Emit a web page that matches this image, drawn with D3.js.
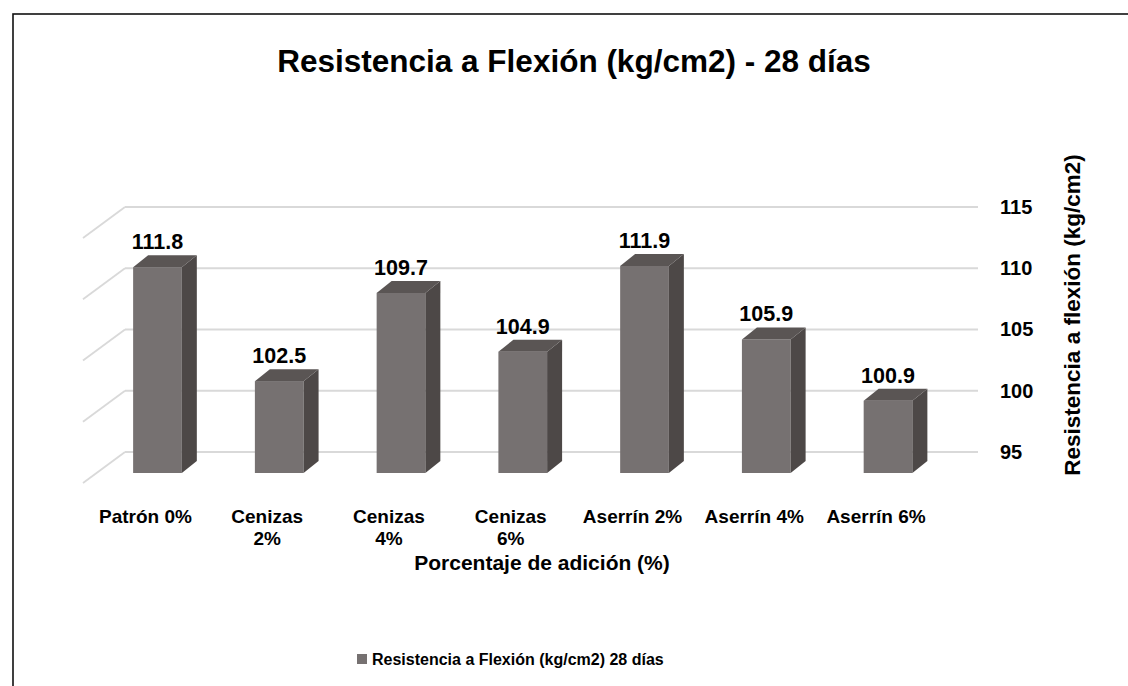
<!DOCTYPE html>
<meta charset="utf-8">
<style>
  body { margin: 0; background: #fff; }
  svg { font-family: "Liberation Sans", Arial, sans-serif; font-weight: 700; }
  .grid line { stroke: #d9d9d9; stroke-width: 1.8; }
</style>
<body>
<script src="https://cdnjs.cloudflare.com/ajax/libs/d3/7.8.5/d3.min.js"></script>
<script>
// data
var categories = ["Patrón 0%", "Cenizas 2%", "Cenizas 4%", "Cenizas 6%", "Aserrín 2%", "Aserrín 4%", "Aserrín 6%"];
var values = [111.8, 102.5, 109.7, 104.9, 111.9, 105.9, 100.9];
var yTicks = [95, 100, 105, 110, 115];
// how excel wrapped the category labels
var tickLines = [["Patrón 0%"], ["Cenizas", "2%"], ["Cenizas", "4%"], ["Cenizas", "6%"], ["Aserrín 2%"], ["Aserrín 4%"], ["Aserrín 6%"]];
var seriesName = "Resistencia a Flexión (kg/cm2) 28 días";

var width = 1128, height = 686;
var depthX = 15, depthY = -12;     // bar depth
var wallDx = -42, wallDy = 31;     // left wall lines

var svg = d3.select("body").append("svg")
  .attr("width", width)
  .attr("height", height);

// chart border
svg.append("rect")
  .attr("x", 13).attr("y", 14)
  .attr("width", 1140).attr("height", 700)
  .attr("fill", "#fff")
  .attr("stroke", "#111")
  .attr("stroke-width", 1.6);

var x = d3.scaleBand()
  .domain(categories)
  .range([96.6, 948.9])
  .paddingInner(0.6)
  .paddingOuter(0.3);

// front plane and back wall
var yFront = d3.scaleLinear().domain([95, 115]).range([473, 228]);
var yBack = d3.scaleLinear().domain([95, 115]).range([452, 207]);

// gridlines on back wall + left wall
var grid = svg.append("g").attr("class", "grid");
grid.selectAll(".back")
  .data(yTicks)
  .enter().append("line")
  .attr("x1", 125).attr("x2", 978)
  .attr("y1", d => yBack(d)).attr("y2", d => yBack(d));
grid.selectAll(".side")
  .data(yTicks)
  .enter().append("line")
  .attr("x1", 125).attr("x2", 125 + wallDx)
  .attr("y1", d => yBack(d)).attr("y2", d => yBack(d) + wallDy);

// bars
var bars = svg.append("g").selectAll("g")
  .data(values)
  .enter().append("g");

bars.append("rect")
  .attr("x", (d, i) => x(categories[i]))
  .attr("y", d => yFront(d))
  .attr("width", x.bandwidth())
  .attr("height", d => yFront(95) - yFront(d))
  .attr("fill", "#767171");

bars.append("path")
  .attr("fill", "#4d4847")
  .attr("d", function(d, i) {
    var x1 = x(categories[i]) + x.bandwidth(), t = yFront(d), b = yFront(95);
    return "M" + x1 + "," + t + "L" + (x1 + depthX) + "," + (t + depthY) +
      "L" + (x1 + depthX) + "," + (b + depthY) + "L" + x1 + "," + b + "Z";
  });

bars.append("path")
  .attr("fill", "#5a5554")
  .attr("d", function(d, i) {
    var x0 = x(categories[i]), x1 = x0 + x.bandwidth(), t = yFront(d);
    return "M" + x0 + "," + t + "L" + (x0 + depthX) + "," + (t + depthY) +
      "L" + (x1 + depthX) + "," + (t + depthY) + "L" + x1 + "," + t + "Z";
  });

// value labels
bars.append("text")
  .attr("x", (d, i) => x(categories[i]) + x.bandwidth() / 2)
  .attr("y", d => yFront(d) - 18)
  .attr("text-anchor", "middle")
  .style("font-size", "21.5px")
  .text(d => d3.format(".1f")(d));

// right value axis
var yAxis = svg.append("g")
  .attr("transform", "translate(1000,0)")
  .call(d3.axisRight(yBack).tickValues(yTicks).tickSize(0).tickPadding(0));
yAxis.select(".domain").remove();
yAxis.selectAll("text")
  .attr("fill", "#000")
  .style("font-size", "20px")
  .style("font-family", "Liberation Sans, Arial, sans-serif")
  .style("font-weight", 700);

// category labels
var xl = svg.append("g").selectAll("text")
  .data(categories)
  .enter().append("text")
  .attr("text-anchor", "middle")
  .attr("transform", d => "translate(" + (x(d) + x.bandwidth() / 2 - 12) + ",523)")
  .style("font-size", "19px");
xl.selectAll("tspan")
  .data((d, i) => tickLines[i])
  .enter().append("tspan")
  .attr("x", 0)
  .attr("dy", (d, j) => j === 0 ? 0 : 22)
  .text(d => d);

// titles
svg.append("text")
  .attr("x", 574).attr("y", 72)
  .attr("text-anchor", "middle")
  .style("font-size", "31.5px")
  .text("Resistencia a Flexión (kg/cm2) - 28 días");

svg.append("text")
  .attr("x", 542).attr("y", 570)
  .attr("text-anchor", "middle")
  .style("font-size", "21px")
  .text("Porcentaje de adición (%)");

svg.append("text")
  .attr("transform", "translate(1080,315) rotate(-90)")
  .attr("text-anchor", "middle")
  .style("font-size", "22.5px")
  .text("Resistencia a flexión (kg/cm2)");

// legend
svg.append("rect")
  .attr("x", 357).attr("y", 654)
  .attr("width", 10).attr("height", 10)
  .attr("fill", "#767171");
svg.append("text")
  .attr("x", 372).attr("y", 665)
  .style("font-size", "16px")
  .text(seriesName);
</script>
</body>
